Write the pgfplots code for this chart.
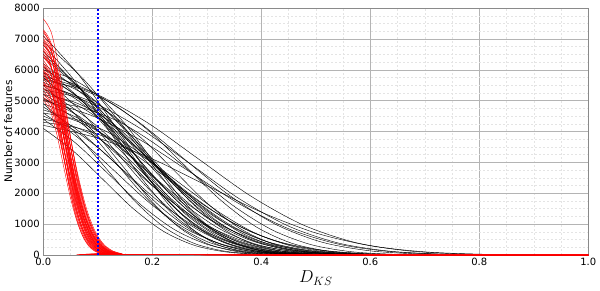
\documentclass[border=0pt]{standalone}
\usepackage{fontspec}
\setmainfont{DejaVu Sans}
\usepackage{pgfplots}
\pgfplotsset{compat=1.18}
\definecolor{majgrid}{HTML}{B4B4B4}
\definecolor{mingrid}{HTML}{E4E4E4}
\definecolor{framec}{HTML}{8A8A8A}
\definecolor{thrblue}{HTML}{0000FF}
\pgfplotsset{
  blk/.style={black, line width=0.42pt, smooth, mark=none},
  rd/.style={red, line width=0.42pt, smooth, mark=none},
}
\begin{document}
\begin{tikzpicture}
\begin{axis}[
  at={(0,0)}, anchor=south west,
  scale only axis, width=545pt, height=247pt,
  xmin=0, xmax=1, ymin=0, ymax=8000,
  xtick={0,0.2,0.4,0.6,0.8,1.0},
  ytick={0,1000,2000,3000,4000,5000,6000,7000,8000},
  minor x tick num=3, minor y tick num=3,
  grid=both,
  major grid style={majgrid, line width=0.5pt},
  minor grid style={mingrid, line width=0.4pt, dash pattern=on 2pt off 2pt},
  tick style={draw=none},
  axis line style={framec, line width=0.6pt},
  scaled y ticks=false,
  /pgf/number format/assume math mode=true,
  yticklabel style={font=\fontsize{10}{12}\selectfont, /pgf/number format/1000 sep={}},
  xticklabel style={font=\fontsize{10}{12}\selectfont, /pgf/number format/.cd, fixed, fixed zerofill, precision=1},
  xlabel={$D_{KS}$},
  ylabel={Number of features},
  every axis x label/.style={at={(axis description cs:0.5,-0.093)}, anchor=center, font=\fontsize{17}{20}\selectfont},
  every axis y label/.style={at={(axis description cs:-0.0642,0.5)}, anchor=center, rotate=90, font=\fontsize{10.5}{12}\selectfont},
  no markers,
]
% ---------------- black curves ----------------
\addplot[blk] coordinates {(0,5800)(0.095,5229)(0.19,4298)(0.285,3108)(0.38,1917)(0.475,987)(0.57,415)(0.665,142)(0.76,38)(0.855,9)};
\addplot[blk] coordinates {(0,5500)(0.09,4958)(0.18,4076)(0.27,2947)(0.36,1818)(0.45,936)(0.54,394)(0.63,134)(0.72,36)(0.81,8)};
\addplot[blk] coordinates {(0,5900)(0.085,5319)(0.17,4372)(0.255,3161)(0.34,1951)(0.425,1004)(0.51,422)(0.595,144)(0.68,39)(0.765,9)};
\addplot[blk] coordinates {(0,5000)(0.07,4775)(0.14,4306)(0.21,3538)(0.28,2558)(0.35,1579)(0.42,812)(0.49,342)(0.56,117)(0.63,32)(0.7,7)};
\addplot[blk] coordinates {(0,7100)(0.065,5835)(0.13,4220)(0.195,2604)(0.26,1339)(0.325,564)(0.39,192)(0.455,53)(0.52,12)};
\addplot[blk] coordinates {(0,6900)(0.075,5671)(0.15,4101)(0.225,2530)(0.3,1301)(0.375,548)(0.45,187)(0.525,51)(0.6,12)};
\addplot[blk] coordinates {(0,6500)(0.07,5342)(0.14,3863)(0.21,2384)(0.28,1226)(0.35,516)(0.42,176)(0.49,48)(0.56,11)};
\addplot[blk] coordinates {(0,6000)(0.05,5729)(0.1,5167)(0.15,4246)(0.2,3070)(0.25,1894)(0.3,974)(0.35,410)(0.4,140)(0.45,38)(0.5,8)};
\addplot[blk] coordinates {(0,6000)(0.065,5409)(0.13,4446)(0.195,3215)(0.26,1984)(0.325,1021)(0.39,430)(0.455,146)(0.52,40)(0.585,9)};
\addplot[blk] coordinates {(0,5900)(0.085,4849)(0.17,3506)(0.255,2164)(0.34,1113)(0.425,468)(0.51,160)(0.595,44)(0.68,10)};
\addplot[blk] coordinates {(0,5700)(0.05,5443)(0.1,4908)(0.15,4033)(0.2,2916)(0.25,1799)(0.3,926)(0.35,390)(0.4,133)(0.45,36)(0.5,8)};
\addplot[blk] coordinates {(0,5600)(0.06,5048)(0.12,4150)(0.18,3000)(0.24,1851)(0.3,953)(0.36,401)(0.42,137)(0.48,37)(0.54,8)};
\addplot[blk] coordinates {(0,5400)(0.08,4438)(0.16,3209)(0.24,1980)(0.32,1018)(0.4,429)(0.48,146)(0.56,40)(0.64,9)};
\addplot[blk] coordinates {(0,5300)(0.07,4778)(0.14,3927)(0.21,2840)(0.28,1752)(0.35,902)(0.42,379)(0.49,129)(0.56,35)(0.63,8)};
\addplot[blk] coordinates {(0,5200)(0.055,4965)(0.11,4478)(0.165,3680)(0.22,2660)(0.275,1642)(0.33,844)(0.385,356)(0.44,121)(0.495,33)(0.55,7)};
\addplot[blk] coordinates {(0,5100)(0.075,4192)(0.15,3031)(0.225,1870)(0.3,962)(0.375,405)(0.45,138)(0.525,38)(0.6,9)};
\addplot[blk] coordinates {(0,4900)(0.065,4417)(0.13,3631)(0.195,2625)(0.26,1620)(0.325,833)(0.39,351)(0.455,120)(0.52,32)(0.585,7)};
\addplot[blk] coordinates {(0,4800)(0.07,3945)(0.14,2853)(0.21,1760)(0.28,905)(0.35,381)(0.42,130)(0.49,36)(0.56,8)};
\addplot[blk] coordinates {(0,4700)(0.075,4237)(0.15,3483)(0.225,2518)(0.3,1554)(0.375,799)(0.45,337)(0.525,115)(0.6,31)(0.675,7)};
\addplot[blk] coordinates {(0,4600)(0.065,3781)(0.13,2734)(0.195,1687)(0.26,868)(0.325,365)(0.39,125)(0.455,34)(0.52,8)};
\addplot[blk] coordinates {(0,4500)(0.055,4057)(0.11,3335)(0.165,2411)(0.22,1488)(0.275,765)(0.33,322)(0.385,110)(0.44,30)(0.495,7)};
\addplot[blk] coordinates {(0,4400)(0.06,3616)(0.12,2615)(0.18,1613)(0.24,830)(0.3,349)(0.36,119)(0.42,33)(0.48,7)};
\addplot[blk] coordinates {(0,4200)(0.1,3786)(0.2,3112)(0.3,2250)(0.4,1389)(0.5,714)(0.6,301)(0.7,102)(0.8,28)(0.9,6)};
\addplot[blk] coordinates {(0,4100)(0.055,3370)(0.11,2437)(0.165,1503)(0.22,773)(0.275,326)(0.33,111)(0.385,30)(0.44,7)};
\addplot[blk] coordinates {(0,6100)(0.07,5014)(0.14,3625)(0.21,2237)(0.28,1150)(0.35,484)(0.42,165)(0.49,45)(0.56,10)};
\addplot[blk] coordinates {(0,6600)(0.065,5425)(0.13,3922)(0.195,2420)(0.26,1245)(0.325,524)(0.39,179)(0.455,49)(0.52,11)};
\addplot[blk] coordinates {(0,5800)(0.055,5229)(0.11,4298)(0.165,3108)(0.22,1917)(0.275,987)(0.33,415)(0.385,142)(0.44,38)(0.495,9)};
\addplot[blk] coordinates {(0,5500)(0.06,4520)(0.12,3269)(0.18,2017)(0.24,1037)(0.3,437)(0.36,149)(0.42,41)(0.48,9)};
\addplot[blk] coordinates {(0,5000)(0.09,4508)(0.18,3705)(0.27,2679)(0.36,1653)(0.45,851)(0.54,358)(0.63,122)(0.72,33)(0.81,8)};
\addplot[blk] coordinates {(0,6800)(0.06,5589)(0.12,4041)(0.18,2494)(0.24,1282)(0.3,540)(0.36,184)(0.42,50)(0.48,12)};
\addplot[blk] coordinates {(0,5350)(0.06,5109)(0.12,4607)(0.18,3786)(0.24,2737)(0.3,1689)(0.36,869)(0.42,366)(0.48,125)(0.54,34)(0.6,7)};
\addplot[blk] coordinates {(0,4600)(0.06,4393)(0.12,3961)(0.18,3255)(0.24,2353)(0.3,1452)(0.36,747)(0.42,315)(0.48,107)(0.54,29)(0.6,6)};
\addplot[blk] coordinates {(0,5650)(0.065,5395)(0.13,4865)(0.195,3998)(0.26,2891)(0.325,1784)(0.39,918)(0.455,386)(0.52,132)(0.585,36)(0.65,8)};
\addplot[blk] coordinates {(0,4900)(0.055,4027)(0.11,2912)(0.165,1797)(0.22,924)(0.275,389)(0.33,133)(0.385,36)(0.44,8)};
\addplot[blk] coordinates {(0,6400)(0.075,5260)(0.15,3804)(0.225,2347)(0.3,1207)(0.375,508)(0.45,173)(0.525,47)(0.6,11)};
\addplot[blk] coordinates {(0,5200)(0.05,4688)(0.1,3853)(0.15,2786)(0.2,1719)(0.25,885)(0.3,372)(0.35,127)(0.4,34)(0.45,8)};
\addplot[blk] coordinates {(0,5500)(0.045,5252)(0.09,4736)(0.135,3892)(0.18,2814)(0.225,1736)(0.27,893)(0.315,376)(0.36,128)(0.405,35)(0.45,8)};
\addplot[blk] coordinates {(0,4400)(0.05,4202)(0.1,3789)(0.15,3113)(0.2,2251)(0.25,1389)(0.3,714)(0.35,301)(0.4,102)(0.45,28)(0.5,6)};
\addplot[blk] coordinates {(0,6200)(0.08,5096)(0.16,3685)(0.24,2274)(0.32,1169)(0.4,492)(0.48,168)(0.56,46)(0.64,11)};
\addplot[blk] coordinates {(0,5050)(0.06,4553)(0.12,3742)(0.18,2706)(0.24,1670)(0.3,859)(0.36,362)(0.42,123)(0.48,33)(0.54,8)};
\addplot[blk] coordinates {(0,4300)(0.065,4106)(0.13,3703)(0.195,3043)(0.26,2200)(0.325,1358)(0.39,698)(0.455,294)(0.52,100)(0.585,27)(0.65,6)};
\addplot[blk] coordinates {(0,5750)(0.065,4726)(0.13,3417)(0.195,2109)(0.26,1084)(0.325,457)(0.39,156)(0.455,43)(0.52,10)};
% ---------------- red curves ----------------
\addplot[rd] coordinates {(0,7650)(0.015,7186)(0.03,5958)(0.045,4359)(0.06,2814)(0.075,1603)(0.09,806)(0.105,358)(0.12,140)(0.135,48)(0.15,15)(1,0)};
\addplot[rd] coordinates {(0,7300)(0.0145,6858)(0.029,5685)(0.0435,4160)(0.058,2686)(0.0725,1530)(0.087,769)(0.1015,342)(0.116,134)(0.1305,46)(0.145,14)(1,0)};
\addplot[rd] coordinates {(0,7200)(0.0155,6764)(0.031,5607)(0.0465,4103)(0.062,2649)(0.0775,1509)(0.093,759)(0.1085,337)(0.124,132)(0.1395,45)(0.155,14)(1,0)};
\addplot[rd] coordinates {(0,7100)(0.014,6670)(0.028,5529)(0.042,4046)(0.056,2612)(0.07,1488)(0.084,748)(0.098,332)(0.112,130)(0.126,45)(0.14,13)(1,0)};
\addplot[rd] coordinates {(0,7000)(0.015,6576)(0.03,5452)(0.045,3989)(0.06,2575)(0.075,1467)(0.09,738)(0.105,328)(0.12,128)(0.135,44)(0.15,13)(1,0)};
\addplot[rd] coordinates {(0,6900)(0.0135,6482)(0.027,5374)(0.0405,3932)(0.054,2539)(0.0675,1446)(0.081,727)(0.0945,323)(0.108,126)(0.1215,43)(0.135,13)(1,0)};
\addplot[rd] coordinates {(0,6800)(0.0145,6388)(0.029,5296)(0.0435,3875)(0.058,2502)(0.0725,1425)(0.087,717)(0.1015,318)(0.116,124)(0.1305,43)(0.145,13)(1,0)};
\addplot[rd] coordinates {(0,6700)(0.0155,6294)(0.031,5218)(0.0465,3818)(0.062,2465)(0.0775,1404)(0.093,706)(0.1085,314)(0.124,123)(0.1395,42)(0.155,13)(1,0)};
\addplot[rd] coordinates {(0,6600)(0.013,6200)(0.026,5140)(0.039,3761)(0.052,2428)(0.065,1383)(0.078,696)(0.091,309)(0.104,121)(0.117,42)(0.13,13)(1,0)};
\addplot[rd] coordinates {(0,6500)(0.014,6106)(0.028,5062)(0.042,3704)(0.056,2391)(0.07,1362)(0.084,685)(0.098,304)(0.112,119)(0.126,41)(0.14,12)(1,0)};
\addplot[rd] coordinates {(0,6450)(0.015,6059)(0.03,5023)(0.045,3675)(0.06,2373)(0.075,1352)(0.09,680)(0.105,302)(0.12,118)(0.135,41)(0.15,12)(1,0)};
\addplot[rd] coordinates {(0,6300)(0.0135,5918)(0.027,4906)(0.0405,3590)(0.054,2318)(0.0675,1320)(0.081,664)(0.0945,295)(0.108,115)(0.1215,40)(0.135,12)(1,0)};
\addplot[rd] coordinates {(0,6200)(0.0145,5824)(0.029,4829)(0.0435,3533)(0.058,2281)(0.0725,1300)(0.087,653)(0.1015,290)(0.116,113)(0.1305,39)(0.145,12)(1,0)};
\addplot[rd] coordinates {(0,6100)(0.0125,5730)(0.025,4751)(0.0375,3476)(0.05,2244)(0.0625,1279)(0.075,643)(0.0875,285)(0.1,112)(0.1125,38)(0.125,12)(1,0)};
\addplot[rd] coordinates {(0,6000)(0.014,5636)(0.028,4673)(0.042,3419)(0.056,2207)(0.07,1258)(0.084,632)(0.098,281)(0.112,110)(0.126,38)(0.14,11)(1,0)};
\addplot[rd] coordinates {(0,5950)(0.0155,5589)(0.031,4634)(0.0465,3390)(0.062,2189)(0.0775,1247)(0.093,627)(0.1085,278)(0.124,109)(0.1395,37)(0.155,11)(1,0)};
\addplot[rd] coordinates {(0,5850)(0.013,5495)(0.026,4556)(0.039,3333)(0.052,2152)(0.065,1226)(0.078,617)(0.091,274)(0.104,107)(0.117,37)(0.13,11)(1,0)};
\addplot[rd] coordinates {(0,5800)(0.0145,5449)(0.029,4517)(0.0435,3305)(0.058,2134)(0.0725,1216)(0.087,611)(0.1015,271)(0.116,106)(0.1305,37)(0.145,11)(1,0)};
\addplot[rd] coordinates {(0,5700)(0.0135,5355)(0.027,4439)(0.0405,3248)(0.054,2097)(0.0675,1195)(0.081,601)(0.0945,267)(0.108,104)(0.1215,36)(0.135,11)(1,0)};
\addplot[rd] coordinates {(0,5600)(0.015,5261)(0.03,4361)(0.045,3191)(0.06,2060)(0.075,1174)(0.09,590)(0.105,262)(0.12,102)(0.135,35)(0.15,11)(1,0)};
\addplot[rd] coordinates {(0,5500)(0.0125,5167)(0.025,4283)(0.0375,3134)(0.05,2023)(0.0625,1153)(0.075,580)(0.0875,257)(0.1,101)(0.1125,35)(0.125,10)(1,0)};
\addplot[rd] coordinates {(0,5400)(0.014,5073)(0.028,4206)(0.042,3077)(0.056,1987)(0.07,1132)(0.084,569)(0.098,253)(0.112,99)(0.126,34)(0.14,10)(1,0)};
\addplot[rd] coordinates {(0,5300)(0.013,4979)(0.026,4128)(0.039,3020)(0.052,1950)(0.065,1111)(0.078,559)(0.091,248)(0.104,97)(0.117,33)(0.13,10)(1,0)};
\addplot[rd] coordinates {(0,5200)(0.0145,4885)(0.029,4050)(0.0435,2963)(0.058,1913)(0.0725,1090)(0.087,548)(0.1015,243)(0.116,95)(0.1305,33)(0.145,10)(1,0)};
\addplot[rd] coordinates {(0,5100)(0.0135,4791)(0.027,3972)(0.0405,2906)(0.054,1876)(0.0675,1069)(0.081,538)(0.0945,239)(0.108,93)(0.1215,32)(0.135,10)(1,0)};
\addplot[rd] coordinates {(0,5000)(0.0125,4697)(0.025,3894)(0.0375,2849)(0.05,1840)(0.0625,1048)(0.075,527)(0.0875,234)(0.1,92)(0.1125,32)(0.125,10)(1,0)};
\addplot[rd] coordinates {(0,6950)(0.016,6529)(0.032,5413)(0.048,3960)(0.064,2557)(0.08,1457)(0.096,733)(0.112,325)(0.128,127)(0.144,44)(0.16,13)(1,0)};
\addplot[rd] coordinates {(0,6400)(0.016,6012)(0.032,4984)(0.048,3647)(0.064,2355)(0.08,1341)(0.096,675)(0.112,300)(0.128,117)(0.144,40)(0.16,12)(1,0)};
\addplot[rd] coordinates {(0,5900)(0.012,5542)(0.024,4595)(0.036,3362)(0.048,2171)(0.06,1237)(0.072,622)(0.084,276)(0.096,108)(0.108,37)(0.12,11)(1,0)};
\addplot[rd] coordinates {(0,6650)(0.0125,6247)(0.025,5179)(0.0375,3789)(0.05,2447)(0.0625,1394)(0.075,701)(0.0875,311)(0.1,122)(0.1125,42)(0.125,13)(1,0)};
\addplot[rd] coordinates {(0,7250)(0.013,6811)(0.026,5646)(0.039,4131)(0.052,2667)(0.065,1520)(0.078,764)(0.091,339)(0.104,133)(0.117,46)(0.13,14)(1,0)};
\addplot[rd] coordinates {(0,6150)(0.015,5777)(0.03,4790)(0.045,3504)(0.06,2263)(0.075,1289)(0.09,648)(0.105,288)(0.12,113)(0.135,39)(0.15,12)(1,0)};
\addplot[rd] coordinates {(0,5550)(0.0155,5214)(0.031,4322)(0.0465,3162)(0.062,2042)(0.0775,1163)(0.093,585)(0.1085,260)(0.124,102)(0.1395,35)(0.155,11)(1,0)};
\addplot[rd] coordinates {(0,6850)(0.014,6435)(0.028,5335)(0.042,3903)(0.056,2520)(0.07,1436)(0.084,722)(0.098,321)(0.112,125)(0.126,43)(0.14,13)(1,0)};
% ---------------- threshold ----------------
\addplot[draw=thrblue, line width=2pt, dash pattern=on 2.2pt off 1.8pt] coordinates {(0.1,0)(0.1,8000)};
\end{axis}
\pgfresetboundingbox
\path (-43.3pt,-35pt) rectangle (556.7pt,255pt);
\end{tikzpicture}
\end{document}
